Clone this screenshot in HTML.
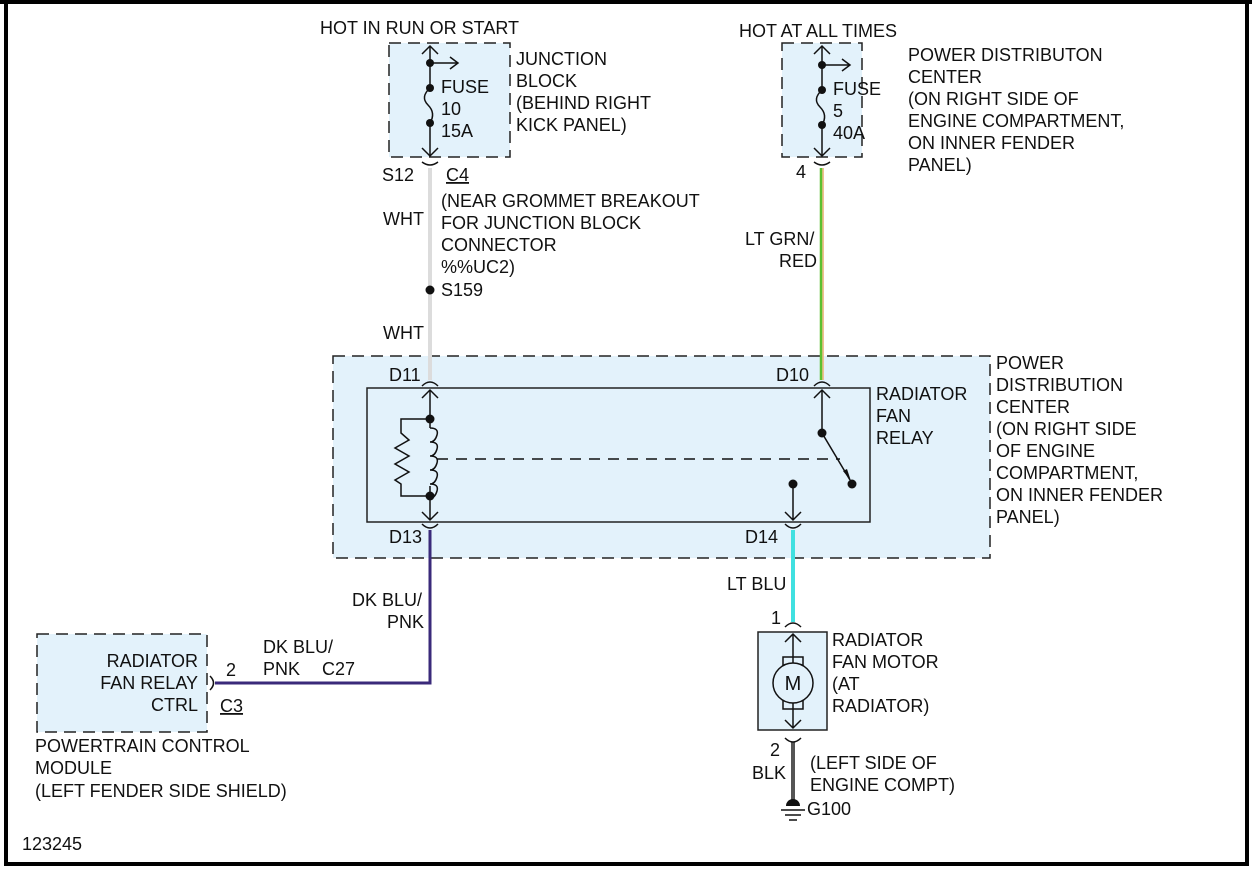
<!DOCTYPE html>
<html><head><meta charset="utf-8"><style>
html,body{margin:0;padding:0;background:#fff;}
svg{display:block;}
text{font-family:"Liberation Sans",Arial,sans-serif;font-size:18px;fill:#111;}
</style></head><body>
<svg width="1252" height="873" viewBox="0 0 1252 873" xmlns="http://www.w3.org/2000/svg">
<rect x="0" y="0" width="1252" height="873" fill="#fff"/>
<path d="M6 0 V864 H1247 V0" fill="none" stroke="#000" stroke-width="4"/>
<line x1="0" y1="2" x2="1252" y2="2" stroke="#000" stroke-width="4"/>

<g fill="none" stroke="#222" stroke-width="1.5">
<rect x="389" y="43" width="121" height="114" fill="#e3f2fb" stroke-dasharray="12,7"/>
<rect x="782" y="43" width="80" height="114" fill="#e3f2fb" stroke-dasharray="12,7"/>
<rect x="333" y="356" width="657" height="202" fill="#e3f2fb" stroke-dasharray="12,7"/>
<rect x="367" y="388" width="503" height="134" fill="#e3f2fb" stroke="#222"/>
<rect x="37" y="634" width="170" height="98" fill="#e3f2fb" stroke-dasharray="12,7"/>
<rect x="758" y="632" width="69" height="98" fill="#e3f2fb"/>
</g>

<line x1="430" y1="168" x2="430" y2="380" stroke="#dcdcdc" stroke-width="4"/>
<line x1="822" y1="168" x2="822" y2="380" stroke="#f0c090" stroke-width="4"/>
<line x1="821" y1="168" x2="821" y2="380" stroke="#5cc030" stroke-width="2.5"/>
<path d="M430 530 V683 H215" fill="none" stroke="#3a2a7a" stroke-width="3"/>
<line x1="793" y1="530" x2="793" y2="622" stroke="#40e0e0" stroke-width="4"/>
<line x1="793" y1="742" x2="793" y2="800" stroke="#555" stroke-width="4"/>

<g fill="none" stroke="#111" stroke-width="1.5">
<path d="M430 46 V88 M430 123 V156"/>
<path d="M430 88 q-10 9 -2 17 q8 8 2 18"/>
<path d="M422 54 L430 46 L438 54 M422 148 L430 156 L438 148"/>
<path d="M430 63 H457 M450 57 L458 63 L450 69"/>
<path d="M422 162 q8 6 16 0"/>
<path d="M822 46 V90 M822 125 V156"/>
<path d="M822 90 q-10 9 -2 17 q8 8 2 18"/>
<path d="M814 54 L822 46 L830 54 M814 148 L822 156 L830 148"/>
<path d="M822 65 H849 M842 59 L850 65 L842 71"/>
<path d="M814 162 q8 6 16 0"/>
<path d="M422 386 q8 -8 16 0 M814 386 q8 -8 16 0"/>
<path d="M422 524 q8 8 16 0 M785 524 q8 8 16 0"/>
<path d="M430 390 V428 M430 486 V520"/>
<path d="M422 398 L430 390 L438 398 M422 512 L430 520 L438 512"/>
<path d="M430 428 q9 0 7 7 q-2 7 -7 7 q9 0 7 7 q-2 7 -7 7 q9 0 7 7 q-2 7 -7 7 q9 0 7 7 q-2 7 -7 7 q9 0 7 7 q-2 7 -7 7"/>
<path d="M430 419 H401 V433 L409 440 L395 448 L409 456 L395 464 L409 472 L395 480 L401 484 V496 H430"/>
<line x1="437" y1="459" x2="840" y2="459" stroke-dasharray="11,8"/>
<path d="M822 390 V433 L850 480"/>
<path d="M814 398 L822 390 L830 398"/>
<path d="M793 484 V520 M785 512 L793 520 L801 512"/>
<path d="M210 676 q7 7 0 14"/>
<path d="M785 627 q8 -8 16 0 M785 738 q8 8 16 0"/>
<path d="M793 634 V663 M793 703 V728"/>
<path d="M785 642 L793 634 L801 642 M785 720 L793 728 L801 720"/>
<rect x="783" y="657" width="20" height="52"/>
<circle cx="793" cy="683" r="20" fill="#e3f2fb"/>
<path d="M781 810 H805 M785 815 H801 M789 820 H797"/>
</g>
<g fill="#111">
<circle cx="430" cy="63" r="4"/><circle cx="430" cy="88" r="4"/><circle cx="430" cy="123" r="4"/>
<circle cx="822" cy="65" r="4"/><circle cx="822" cy="90" r="4"/><circle cx="822" cy="125" r="4"/>
<circle cx="430" cy="290" r="4.5"/>
<circle cx="430" cy="419" r="4.5"/><circle cx="430" cy="496" r="4.5"/>
<circle cx="822" cy="433" r="4.5"/><circle cx="852" cy="484" r="4.5"/><circle cx="793" cy="484" r="4.5"/>
<path d="M786 806 a7 7 0 0 1 14 0 z"/>
</g>
<path d="M843 471 L851 481 L847 469 z" fill="#111"/>

<text x="320" y="34">HOT IN RUN OR START</text>
<text x="516" y="65">JUNCTION</text><text x="516" y="87">BLOCK</text><text x="516" y="109">(BEHIND RIGHT</text><text x="516" y="131">KICK PANEL)</text>
<text x="441" y="93">FUSE</text><text x="441" y="115">10</text><text x="441" y="137">15A</text>
<text x="382" y="181">S12</text><text x="446" y="181" text-decoration="underline">C4</text>
<text x="383" y="225">WHT</text>
<text x="441" y="207">(NEAR GROMMET BREAKOUT</text><text x="441" y="229">FOR JUNCTION BLOCK</text><text x="441" y="251">CONNECTOR</text><text x="441" y="273">%%UC2)</text>
<text x="441" y="296">S159</text>
<text x="383" y="339">WHT</text>
<text x="739" y="37">HOT AT ALL TIMES</text>
<text x="908" y="61">POWER DISTRIBUTON</text><text x="908" y="83">CENTER</text><text x="908" y="105">(ON RIGHT SIDE OF</text><text x="908" y="127">ENGINE COMPARTMENT,</text><text x="908" y="149">ON INNER FENDER</text><text x="908" y="171">PANEL)</text>
<text x="833" y="95">FUSE</text><text x="833" y="117">5</text><text x="833" y="139">40A</text>
<text x="796" y="178">4</text>
<text x="745" y="245">LT GRN/</text><text x="779" y="267">RED</text>
<text x="389" y="381">D11</text><text x="776" y="381">D10</text>
<text x="389" y="543">D13</text><text x="745" y="543">D14</text>
<text x="876" y="400">RADIATOR</text><text x="876" y="422">FAN</text><text x="876" y="444">RELAY</text>
<text x="996" y="369">POWER</text><text x="996" y="391">DISTRIBUTION</text><text x="996" y="413">CENTER</text><text x="996" y="435">(ON RIGHT SIDE</text><text x="996" y="457">OF ENGINE</text><text x="996" y="479">COMPARTMENT,</text><text x="996" y="501">ON INNER FENDER</text><text x="996" y="523">PANEL)</text>
<text x="352" y="606">DK BLU/</text><text x="387" y="628">PNK</text>
<text x="263" y="653">DK BLU/</text><text x="263" y="675">PNK</text><text x="322" y="675">C27</text>
<text x="226" y="676">2</text><text x="220" y="712" text-decoration="underline">C3</text>
<text x="198" y="667" text-anchor="end">RADIATOR</text><text x="198" y="689" text-anchor="end">FAN RELAY</text><text x="198" y="711" text-anchor="end">CTRL</text>
<text x="35" y="752">POWERTRAIN CONTROL</text><text x="35" y="774">MODULE</text><text x="35" y="797">(LEFT FENDER SIDE SHIELD)</text>
<text x="22" y="850">123245</text>
<text x="727" y="590">LT BLU</text><text x="771" y="624">1</text>
<text x="832" y="646">RADIATOR</text><text x="832" y="668">FAN MOTOR</text><text x="832" y="690">(AT</text><text x="832" y="712">RADIATOR)</text>
<text x="793" y="690" text-anchor="middle" style="font-size:20px">M</text>
<text x="770" y="756">2</text><text x="752" y="779">BLK</text>
<text x="810" y="769">(LEFT SIDE OF</text><text x="810" y="791">ENGINE COMPT)</text>
<text x="807" y="815">G100</text>
</svg>
</body></html>
